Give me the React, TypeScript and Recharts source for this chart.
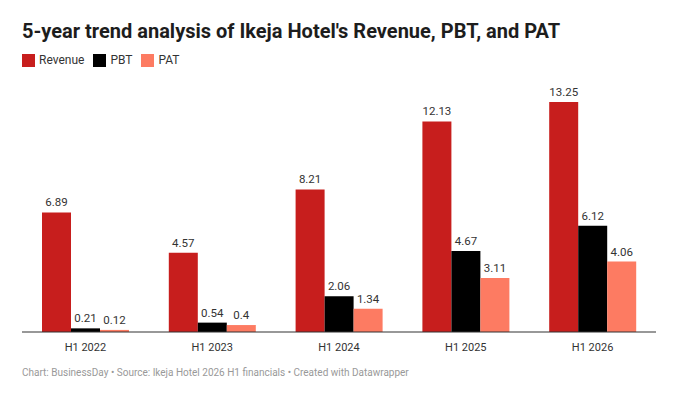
import { BarChart, Bar, XAxis, YAxis, LabelList } from "recharts";

const periods = ["H1 2022", "H1 2023", "H1 2024", "H1 2025", "H1 2026"];
const revenue = [6.89, 4.57, 8.21, 12.13, 13.25];
const pbt = [0.21, 0.54, 2.06, 4.67, 6.12];
const pat = [0.12, 0.4, 1.34, 3.11, 4.06];

const series = [
  { key: "revenue", name: "Revenue", color: "#c71e1d" },
  { key: "pbt", name: "PBT", color: "#000000" },
  { key: "pat", name: "PAT", color: "#fd7b62" },
];

const data = periods.map((p, i) => ({ period: p, revenue: revenue[i], pbt: pbt[i], pat: pat[i] }));

const font = "Roboto, 'Noto Sans', sans-serif";

export default function App() {
  return (
    <div style={{ position: "fixed", left: 0, top: 0, width: 700, height: 400, background: "#fff", fontFamily: font }}>
      <div style={{ position: "absolute", left: 22, top: 19, fontSize: 20, fontWeight: 700, color: "#1d1d1d" }}>
        5-year trend analysis of Ikeja Hotel's Revenue, PBT, and PAT
      </div>
      <div style={{ position: "absolute", left: 22, top: 53, display: "flex", fontSize: 12, color: "#333" }}>
        {series.map((s) => (
          <div key={s.key} style={{ display: "flex", alignItems: "center", marginRight: 9 }}>
            <span style={{ width: 13, height: 13, background: s.color, marginRight: 4, display: "inline-block" }} />
            {s.name}
          </div>
        ))}
      </div>
      <div style={{ position: "absolute", left: 0, top: 70 }}>
        <BarChart width={700} height={290} data={data} margin={{ top: 19, right: 44, left: 22, bottom: 0 }} barCategoryGap={20} barGap={0}>
          <XAxis dataKey="period" height={28} tickLine={false} axisLine={{ stroke: "#333", strokeWidth: 1.2 }} tick={{ fill: "#333", fontSize: 11, fontFamily: font }} tickMargin={5} />
          <YAxis hide domain={[0, 14]} />
          {series.map((s) => (
            <Bar key={s.key} dataKey={s.key} fill={s.color} isAnimationActive={false}>
              <LabelList dataKey={s.key} position="top" offset={6} fill="#333" fontSize={11.5} fontFamily={font} />
            </Bar>
          ))}
        </BarChart>
      </div>
      <div style={{ position: "absolute", left: 22, top: 367, fontSize: 10, color: "#999" }}>
        Chart: BusinessDay • Source: Ikeja Hotel 2026 H1 financials • Created with Datawrapper
      </div>
    </div>
  );
}
